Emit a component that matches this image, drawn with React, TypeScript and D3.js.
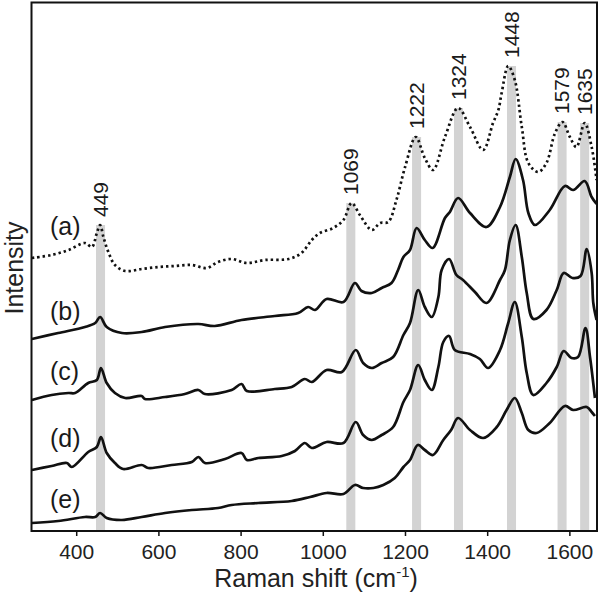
import React from "react";
import * as d3 from "d3";

// Raman shift (cm-1), intensity (a.u., stacked offset as drawn)
const spectrumA: [number, number][] = [
  [291, 273], [339, 276], [380, 281], [420, 288], [437, 284], [449, 298], [457, 306], [465, 294],
  [477, 279], [493, 266], [518, 260], [558, 262], [599, 264], [639, 265], [680, 266], [716, 263],
  [744, 269], [777, 272], [814, 268], [858, 271], [915, 272], [947, 278], [972, 291], [992, 298],
  [1024, 303], [1049, 311], [1069, 328], [1089, 316], [1118, 301], [1138, 308], [1158, 309],
  [1178, 331], [1199, 364], [1225, 394], [1247, 373], [1267, 361], [1296, 394], [1328, 423],
  [1357, 404], [1389, 381], [1413, 408], [1426, 421], [1434, 438], [1450, 465], [1466, 451],
  [1483, 404], [1499, 368], [1523, 359], [1543, 368], [1564, 398], [1582, 409], [1600, 394],
  [1616, 384], [1636, 408], [1653, 384], [1665, 351],
];
const spectrumB: [number, number][] = [
  [291, 192], [355, 198], [420, 204], [445, 208], [457, 214], [473, 204], [510, 198], [558, 199],
  [615, 204], [696, 207], [736, 205], [801, 211], [882, 215], [939, 218], [963, 224], [980, 221],
  [1008, 232], [1049, 229], [1077, 248], [1093, 240], [1118, 238], [1142, 243], [1166, 248],
  [1182, 261], [1195, 274], [1211, 281], [1227, 303], [1247, 291], [1266, 283], [1296, 313],
  [1308, 319], [1328, 333], [1357, 318], [1397, 304], [1430, 324], [1454, 354], [1468, 372],
  [1486, 351], [1499, 318], [1515, 306], [1551, 321], [1588, 345], [1608, 341], [1636, 350],
  [1653, 334], [1665, 327],
];
const spectrumC: [number, number][] = [
  [291, 131], [339, 136], [380, 138], [396, 138], [428, 148], [449, 151], [459, 163], [473, 148],
  [493, 138], [518, 133], [558, 135], [566, 132], [615, 134], [663, 137], [696, 141], [712, 137],
  [777, 141], [801, 147], [814, 140], [882, 142], [923, 144], [955, 152], [972, 149], [1008, 161],
  [1045, 159], [1079, 181], [1097, 168], [1118, 163], [1142, 168], [1170, 174], [1195, 196],
  [1211, 208], [1231, 241], [1247, 224], [1264, 214], [1280, 234], [1288, 261], [1306, 272],
  [1324, 256], [1340, 251], [1369, 239], [1397, 228], [1430, 251], [1442, 261], [1454, 291],
  [1468, 306], [1483, 274], [1495, 238], [1511, 212], [1543, 221], [1568, 241], [1585, 258],
  [1606, 253], [1626, 255], [1641, 282], [1653, 258], [1657, 228], [1665, 211],
];
const spectrumD: [number, number][] = [
  [291, 61], [339, 65], [376, 68], [388, 64], [428, 79], [449, 84], [459, 94], [473, 78],
  [493, 68], [513, 62], [558, 66], [574, 63], [631, 66], [680, 69], [696, 74], [712, 68],
  [761, 72], [801, 78], [814, 71], [842, 73], [899, 75], [931, 80], [955, 88], [972, 83],
  [1008, 89], [1049, 88], [1079, 109], [1097, 96], [1118, 91], [1142, 96], [1170, 104],
  [1195, 129], [1211, 141], [1231, 166], [1247, 151], [1264, 141], [1280, 164], [1292, 189],
  [1306, 195], [1320, 181], [1357, 177], [1381, 172], [1401, 163], [1430, 181], [1450, 208],
  [1466, 229], [1483, 194], [1495, 158], [1511, 136], [1543, 148], [1568, 164], [1585, 180],
  [1604, 173], [1620, 174], [1638, 203], [1649, 174], [1661, 133],
];
const spectrumE: [number, number][] = [
  [291, 8], [355, 10], [420, 14], [445, 14], [457, 18], [473, 13], [510, 11], [558, 14],
  [615, 18], [680, 21], [744, 23], [777, 26], [842, 28], [923, 30], [968, 34], [1008, 38],
  [1049, 37], [1077, 46], [1097, 43], [1122, 43], [1146, 46], [1174, 53], [1195, 64],
  [1211, 71], [1230, 86], [1247, 81], [1267, 76], [1292, 91], [1311, 101], [1328, 113],
  [1357, 101], [1389, 93], [1422, 104], [1446, 121], [1466, 133], [1483, 118], [1499, 101],
  [1519, 98], [1551, 108], [1588, 125], [1608, 121], [1641, 124], [1653, 119], [1661, 115],
];

const seriesNames = ["(a)", "(b)", "(c)", "(d)", "(e)"];
const seriesData = [spectrumA, spectrumB, spectrumC, spectrumD, spectrumE];
const seriesLabelLevels = [296, 211, 151, 84, 23];

const bandCenters = [458, 1067, 1227, 1329, 1458, 1581, 1636];
const bandLabels = ["449", "1069", "1222", "1324", "1448", "1579", "1635"];
const bandWidth = 22;

const xTicks = [400, 600, 800, 1000, 1200, 1400, 1600];

const W = 600;
const H = 596;
const left = 31.5;
const right = 597;
const top = 2.5;
const bottom = 531;
const FONT = "'Liberation Sans', Arial, Helvetica, sans-serif";

export default function App() {
  const x = d3.scaleLinear().domain([290, 1666]).range([left, right]);
  const y = d3.scaleLinear().domain([0, 528.5]).range([bottom, top]);

  const line = d3
    .line<[number, number]>()
    .x((d) => x(d[0]))
    .y((d) => y(d[1]))
    .curve(d3.curveCatmullRom.alpha(0.5));

  const bandTop = (c: number) => {
    const near = spectrumA.filter((d) => Math.abs(d[0] - c) <= 12);
    return d3.max(near, (d) => d[1]) ?? 0;
  };

  return (
    <svg
      width={W}
      height={H}
      viewBox={`0 0 ${W} ${H}`}
      style={{ position: "absolute", left: 0, top: 0, background: "#fff" }}
      fontFamily={FONT}
    >
      <defs>
        <clipPath id="plot">
          <rect x={left} y={top} width={right - left} height={bottom - top} />
        </clipPath>
      </defs>

      {/* grey bands */}
      {bandCenters.map((c, i) => {
        const t = y(bandTop(c));
        return (
          <g key={"band" + i}>
            <rect
              x={x(c - bandWidth / 2)}
              y={t}
              width={x(c + bandWidth / 2) - x(c - bandWidth / 2)}
              height={bottom - t}
              fill="#d3d3d3"
            />
            <text
              transform={`translate(${x(c)},${t - 8}) rotate(-90)`}
              dy="0.35em"
              fontSize={21}
              fill="#1a1a1a"
              textAnchor="start"
            >
              {bandLabels[i]}
            </text>
          </g>
        );
      })}

      {/* spectra */}
      <g clipPath="url(#plot)">
        {seriesData.map((s, i) => (
          <path
            key={"s" + i}
            d={line(s) ?? ""}
            fill="none"
            stroke="#111"
            strokeWidth={2.7}
            strokeDasharray={i === 0 ? "2.4 3" : undefined}
            strokeLinejoin="round"
          />
        ))}
      </g>

      {/* series labels */}
      {seriesNames.map((n, i) => (
        <text key={"n" + i} x={50} y={y(seriesLabelLevels[i])} fontSize={25} fill="#1a1a1a">
          {n}
        </text>
      ))}

      {/* frame */}
      <rect x={left} y={top} width={right - left} height={bottom - top} fill="none" stroke="#111" strokeWidth={2} />

      {/* x ticks */}
      {xTicks.map((t) => (
        <g key={"t" + t}>
          <line x1={x(t)} x2={x(t)} y1={bottom} y2={bottom + 5} stroke="#111" strokeWidth={1.5} />
          <text x={x(t)} y={559} textAnchor="middle" fontSize={21} fill="#222">
            {t}
          </text>
        </g>
      ))}

      {/* axis titles */}
      <text x={316} y={587} textAnchor="middle" fontSize={25} fill="#222">
        Raman shift (cm
        <tspan fontSize={15} dy={-10}>-1</tspan>
        <tspan dy={10}>)</tspan>
      </text>
      <text transform="translate(23,268) rotate(-90)" textAnchor="middle" fontSize={25} fill="#222">
        Intensity
      </text>
    </svg>
  );
}
